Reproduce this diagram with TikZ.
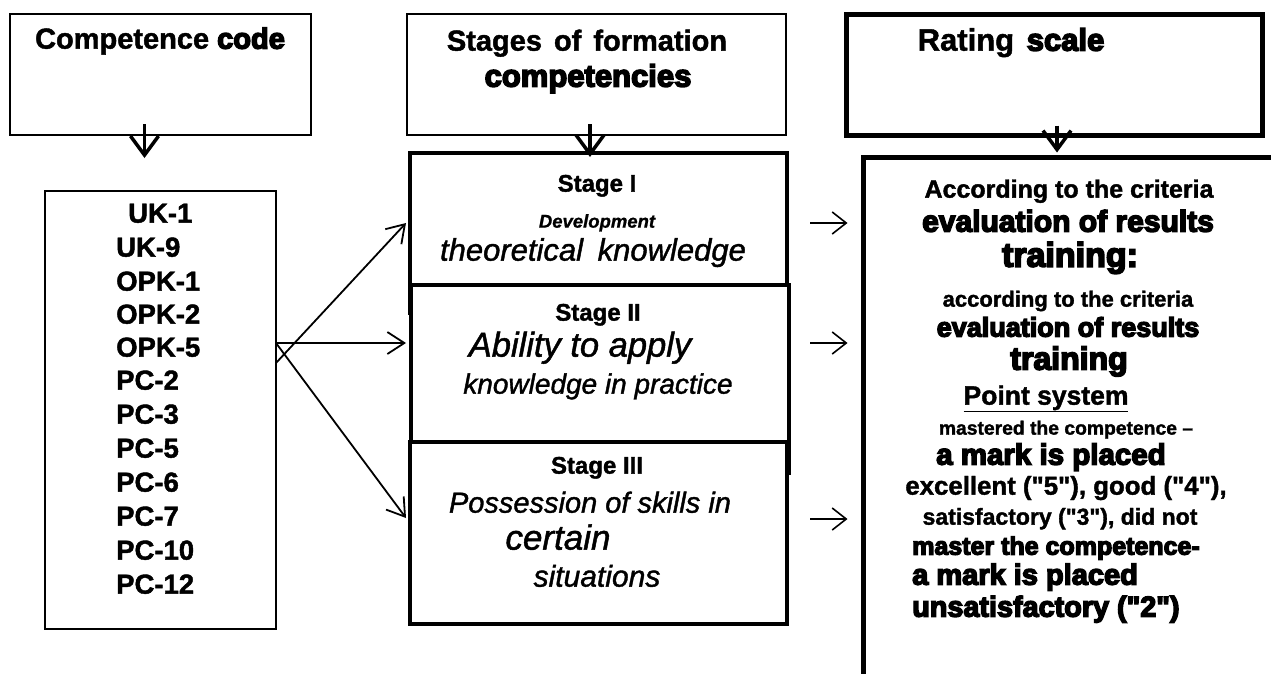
\documentclass[tikz,border=0pt]{standalone}
\usepackage{fontspec}
\setmainfont{Liberation Sans}
\newfontfamily\fbold[FakeBold=1.5]{Liberation Sans Bold}
\newfontfamily\fheavy[FakeBold=5]{Liberation Sans Bold}
\newfontfamily\fital[FakeBold=1.3]{Liberation Sans Italic}
\newfontfamily\fbital[FakeBold=1]{Liberation Sans Bold Italic}
\newcommand\sz[1]{\fontsize{#1}{#1}\selectfont}
\usetikzlibrary{arrows.meta,calc}
\begin{document}
\begin{tikzpicture}[x=1pt,y=-1pt,
  box/.style={draw, inner sep=0pt, fill=white},
  txt/.style={inner sep=0pt, anchor=mid},
  ltxt/.style={inner sep=0pt, anchor=mid west},
  downarr/.style={line width=3.5pt, -{Straight Barb[length=19pt,width=28pt]}},
  inarr/.style={line width=1.8pt, -{Straight Barb[length=17pt,width=22pt]}},
  outarr/.style={line width=1.6pt, -{Straight Barb[length=14pt,width=22pt]}},
  code/.style={inner sep=0pt, anchor=mid west, font=\fbold\sz{27.5}},
  stlabel/.style={inner sep=0pt, anchor=mid, font=\fbold\sz{24}}
]
\useasboundingbox (0,0) rectangle (1271,673);

% boxes
\node[box, line width=2pt, minimum width=301pt, minimum height=121pt] (cc) at (160.5,74.5) {};
\node[box, line width=2pt, minimum width=231pt, minimum height=438pt] (codes) at (160.5,410) {};
\node[box, line width=2.5pt, minimum width=379pt, minimum height=121pt] (stg) at (596.5,74.5) {};
\node[box, line width=4pt, minimum width=377pt, minimum height=160pt] (s1) at (598.5,233) {};
\node[box, line width=4pt, minimum width=378pt, minimum height=188pt] (s2) at (600,379) {};
\node[box, line width=4pt, minimum width=377pt, minimum height=182pt] (s3) at (598.5,533) {};
\node[box, line width=5pt, minimum width=416pt, minimum height=121pt] (rs) at (1054,74.5) {};
\node[box, line width=5pt, minimum width=437pt, minimum height=543pt] (rb) at (1081.5,428.5) {};

% header texts
\node[txt, font=\fbold\sz{29}] (tcc) at (160,46) {Competence {\fheavy code}};
\node[txt, font=\fbold\sz{29}] (tstg1) at (587,48) {Stages\hspace{12pt}of\hspace{12pt}formation};
\node[txt, font=\fheavy\sz{31}] (tstg2) at (588,84) {competencies};
\node[txt, font=\fbold\sz{31}] (trs) at (1011,48) {Rating\hspace{4pt} {\fheavy scale}};

% codes
\node[code] (k1) at (128,220) {UK-1};
\node[code] (k2) at (116,254) {UK-9};
\node[code] (k3) at (116,288) {OPK-1};
\node[code] (k4) at (116,321) {OPK-2};
\node[code] (k5) at (116,354) {OPK-5};
\node[code] (k6) at (116,387) {PC-2};
\node[code] (k7) at (116,421) {PC-3};
\node[code] (k8) at (116,455) {PC-5};
\node[code] (k9) at (116,489) {PC-6};
\node[code] (k10) at (116,523) {PC-7};
\node[code] (k11) at (116,557) {PC-10};
\node[code] (k12) at (116,591) {PC-12};

% stage I
\node[stlabel] (l1) at (597,189) {Stage I};
\node[txt, font=\fbital\sz{18.5}] (l1a) at (597,225) {Development};
\node[txt, font=\fital\sz{31}] (l1b) at (593,258) {theoretical\hspace{6pt} knowledge};
% stage II
\node[stlabel] (l2) at (598,318) {Stage II};
\node[txt, font=\fital\sz{34.5}] (l2a) at (580,354) {Ability to apply};
\node[txt, font=\fital\sz{28}] (l2b) at (598,391) {knowledge in practice};
% stage III
\node[stlabel] (l3) at (597,471) {Stage III};
\node[txt, font=\fital\sz{29}] (l3a) at (590,510) {Possession of skills in};
\node[txt, font=\fital\sz{35}] (l3b) at (558,547) {certain};
\node[txt, font=\fital\sz{30}] (l3c) at (597,584) {situations};

% right box texts
\node[txt, font=\fbold\sz{25}] (r1) at (1069,195) {According to the criteria};
\node[txt, font=\fheavy\sz{30}] (r2) at (1068,229) {evaluation of results};
\node[txt, font=\fheavy\sz{34}] (r3) at (1070,264) {training:};
\node[txt, font=\fbold\sz{22}] (r4) at (1068,304) {according to the criteria};
\node[txt, font=\fheavy\sz{27}] (r5) at (1068,334) {evaluation of results};
\node[txt, font=\fheavy\sz{32}] (r6) at (1069,367) {training};
\node[txt, font=\fbold\sz{26.5}] (r7) at (1046,402) {\underline{Point system}};
\node[txt, font=\fbold\sz{19.3}] (r8) at (1066,432) {mastered the competence –};
\node[txt, font=\fheavy\sz{29.5}] (r9) at (1051,462) {a mark is placed};
\node[txt, font=\fbold\sz{25.8}] (r10) at (1066,492) {excellent ("5"), good ("4"),};
\node[txt, font=\fbold\sz{23}] (r11) at (1060,522) {satisfactory ("3"), did not};
\node[ltxt, font=\fheavy\sz{25}] (r12) at (912,552) {master the competence-};
\node[ltxt, font=\fheavy\sz{29}] (r13) at (912,582) {a mark is placed};
\node[ltxt, font=\fheavy\sz{28.8}] (r14) at (912,614) {unsatisfactory ("2")};

% down arrows
\draw[downarr] ($(cc.south)+(-16,-12)$) -- ($(codes.north)+(-16,-32)$);
\draw[downarr] ($(stg.south)+(-6.5,-12)$) -- ($(stg.south |- s1.north)+(-6.5,6)$);
\draw[downarr] ($(rs.south)+(3,-12)$) -- ($(rs.south |- rb.north)+(3,-2)$);

% arrows from codes to stages
\coordinate (o1) at ($(codes.east)+(-1,-67)$);
\coordinate (o2) at ($(codes.east)+(-1,-47)$);
\draw[inarr] (o2) -- ($(s1.west)+(-2,-10)$);
\draw[inarr] (o1) -- ($(s2.west)+(-3,-36)$);
\draw[inarr] (o1) -- ($(s3.west)+(-2,-15)$);

% arrows from stages to rating box
\draw[outarr] ($(s1.east)+(21,-10)$) -- ($(rb.west |- s1.east)+(-13,-10)$);
\draw[outarr] ($(s2.east)+(19,-36)$) -- ($(rb.west |- s2.east)+(-13,-36)$);
\draw[outarr] ($(s3.east)+(21,-14)$) -- ($(rb.west |- s3.east)+(-13,-14)$);
\end{tikzpicture}
\end{document}
